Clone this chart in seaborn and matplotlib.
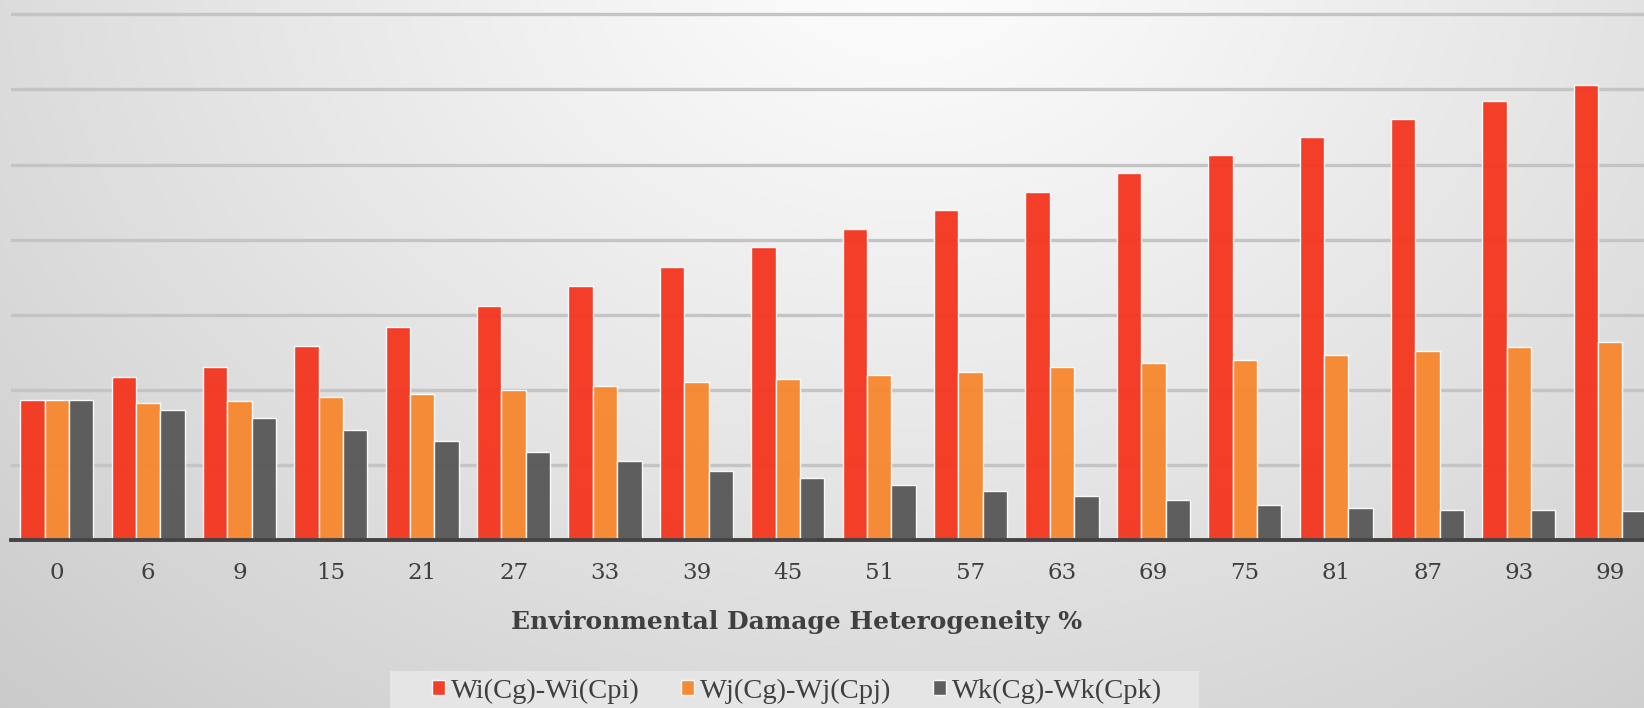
import numpy as np
import pandas as pd
import matplotlib
matplotlib.use("Agg")
import matplotlib.pyplot as plt
from matplotlib.patches import Rectangle
import seaborn as sns

# ---- data (in gridline units) ----
categories = ["0", "6", "9", "15", "21", "27", "33", "39", "45",
              "51", "57", "63", "69", "75", "81", "87", "93", "99"]
wi_values = [1.87, 2.17, 2.31, 2.58, 2.84, 3.12, 3.38, 3.64, 3.90,
             4.14, 4.40, 4.64, 4.89, 5.13, 5.37, 5.60, 5.84, 6.06]
wj_values = [1.87, 1.83, 1.85, 1.90, 1.94, 2.00, 2.05, 2.11, 2.14,
             2.20, 2.24, 2.30, 2.36, 2.40, 2.47, 2.52, 2.57, 2.63]
wk_values = [1.87, 1.73, 1.63, 1.47, 1.32, 1.17, 1.05, 0.92, 0.83,
             0.73, 0.65, 0.59, 0.53, 0.47, 0.43, 0.40, 0.40, 0.38]
series_names = ["Wi(Cg)-Wi(Cpi)", "Wj(Cg)-Wj(Cpj)", "Wk(Cg)-Wk(Cpk)"]
series_colors = ["#F4351E", "#F7862E", "#575757"]
x_label = "Environmental Damage Heterogeneity %"

df = pd.DataFrame({
    "cat": categories * 3,
    "val": wi_values + wj_values + wk_values,
    "series": [series_names[0]] * len(categories)
              + [series_names[1]] * len(categories)
              + [series_names[2]] * len(categories),
})

sns.set_theme(style="white")
plt.rcParams["font.family"] = ["DejaVu Serif"]

W, H = 1644, 708
fig = plt.figure(figsize=(W / 100, H / 100), dpi=100)

# background radial gradient
bg = fig.add_axes([0, 0, 1, 1], zorder=-10)
yy, xx = np.mgrid[0:H, 0:W]
cx, cy = 0.55 * W, -0.08 * H
r = np.sqrt(((xx - cx) / 1.25) ** 2 + (yy - cy) ** 2)
r = r / r.max()
v = 0.995 - 0.20 * r ** 1.1
bg.imshow(np.dstack([v, v, v]), aspect="auto", extent=[0, 1, 0, 1],
          interpolation="bilinear")
bg.set_xlim(0, 1)
bg.set_ylim(0, 1)
bg.axis("off")
# legend background band
bg.add_patch(Rectangle((390 / W, 0), (1199 - 390) / W, (708 - 671) / H,
                       transform=bg.transAxes, facecolor="#e5e5e5",
                       edgecolor="none", zorder=5))

# main axes: left at 11px, right beyond figure (1656px), bottom at 540px
left = 11 / W
right = 1656 / W
bottom = (H - 540) / H
ax = fig.add_axes([left, bottom, right - left, 1 - bottom])
ax.set_facecolor("none")

sns.barplot(data=df, x="cat", y="val", hue="series", order=categories,
            hue_order=series_names, palette=series_colors, width=0.8,
            saturation=1, alpha=0.95, edgecolor=(1, 1, 1, 0.55),
            linewidth=1.0, ax=ax, legend=True)

ax.set_ylim(0, 540 / 75.1)
ax.set_xlim(-0.5, len(categories) - 0.5)
ax.set_yticks(np.arange(1, 8))
ax.yaxis.grid(True, color="#c4c4c4", linewidth=2.4)
ax.set_axisbelow(True)
ax.set_yticklabels([])
ax.tick_params(axis="y", length=0)
ax.tick_params(axis="x", length=0, pad=16, labelsize=16.5, labelcolor="#3f3f3f")
for s in ["top", "right", "left"]:
    ax.spines[s].set_visible(False)
ax.spines["bottom"].set_color("#444444")
ax.spines["bottom"].set_linewidth(2.8)
ax.set_ylabel("")
ax.set_xlabel(x_label, fontsize=18, fontweight="bold", color="#3f3f3f")
# center the xlabel within the visible figure
ax.xaxis.set_label_coords((797 / W - left) / (right - left), -0.13)

handles, labels = ax.get_legend_handles_labels()
ax.get_legend().remove()
leg = fig.legend(handles, labels, loc="center", ncol=3,
                 bbox_to_anchor=(797 / W, 1 - 691 / H),
                 frameon=False,
                 handlelength=0.46, handleheight=0.46, handletextpad=0.22,
                 columnspacing=1.45, borderpad=0.2,
                 prop={"family": "Liberation Serif", "size": 20.5})
for t in leg.get_texts():
    t.set_color("#3f3f3f")

fig.savefig("out.png", dpi=100)
